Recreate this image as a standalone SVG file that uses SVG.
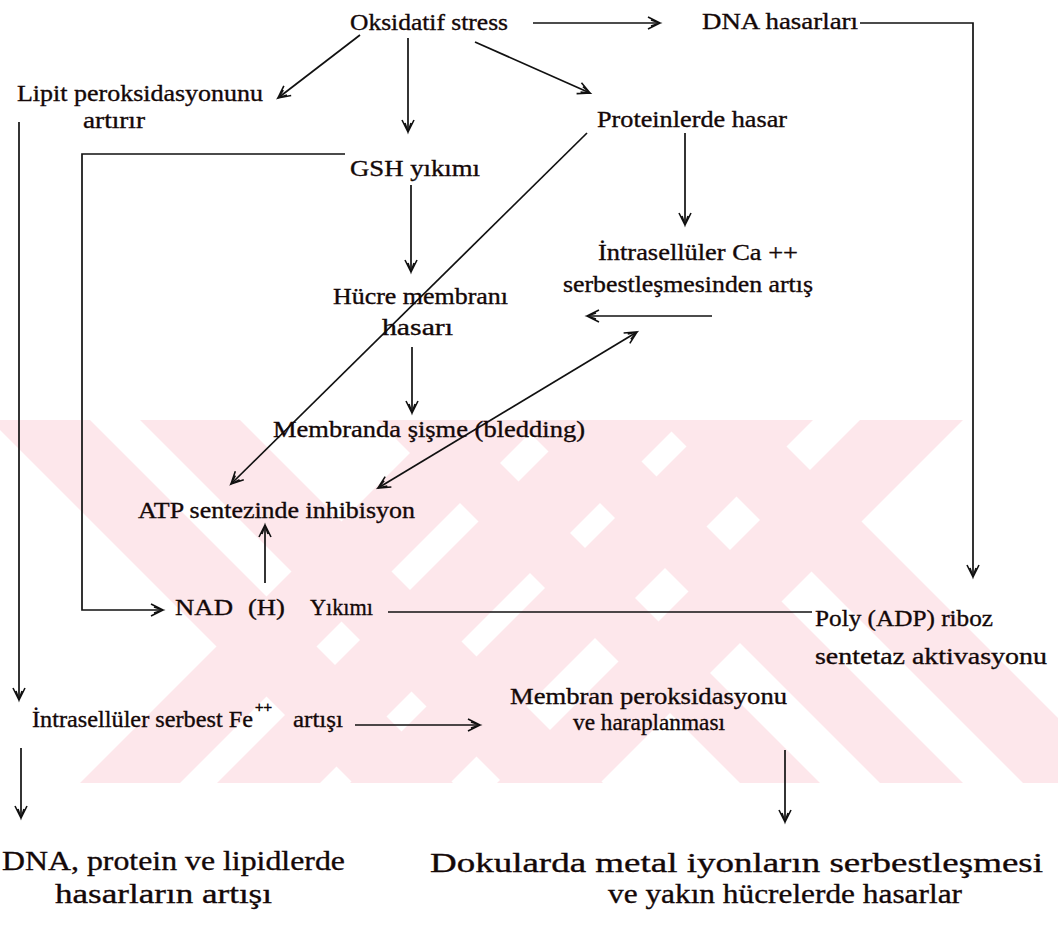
<svg xmlns="http://www.w3.org/2000/svg" width="1058" height="933" viewBox="0 0 1058 933">
<style>
text{font-family:"Liberation Serif","Times New Roman",serif;font-size:24px;fill:#140808;stroke:#140808;stroke-width:0.35}
.big{font-size:28px}
.sup{font-size:15px;stroke-width:0.6}
.ln{fill:none;stroke:#111;stroke-width:1.7}
.wm{fill:#fde7eb}
</style>
<defs>
<marker id="ah" markerUnits="userSpaceOnUse" markerWidth="16" markerHeight="16" refX="13" refY="7" orient="auto-start-reverse" viewBox="0 0 16 14">
<path d="M1,1 L13,7 L1,13 M4,4 L13,7 L4,10" fill="none" stroke="#111" stroke-width="1.6"/>
</marker>
<clipPath id="band"><rect x="0" y="420" width="1058" height="363"/></clipPath>
</defs>
<rect width="1058" height="933" fill="#fff"/>
<g id="watermark" clip-path="url(#band)">
<polygon class="wm" points="80,783 180,783 543,420 443,420"/>
<polygon class="wm" points="217,783 320,783 683,420 580,420"/>
<polygon class="wm" points="350,783 450,783 813,420 713,420"/>
<polygon class="wm" points="497,783 600,783 963,420 860,420"/>
<polygon class="wm" points="-10,420 90,420 453,783 353,783"/>
<polygon class="wm" points="140,420 240,420 603,783 503,783"/>
<polygon class="wm" points="377,420 457,420 820,783 740,783"/>
<polygon class="wm" points="517,420 600,420 963,783 880,783"/>
<polygon class="wm" points="660,420 760,420 1123,783 1023,783"/>
</g>
<g id="connectors">
<line class="ln" x1="533" y1="23" x2="660" y2="23" marker-end="url(#ah)"/>
<line class="ln" x1="360" y1="35" x2="278" y2="98" marker-end="url(#ah)"/>
<line class="ln" x1="408" y1="38" x2="408" y2="132" marker-end="url(#ah)"/>
<line class="ln" x1="475" y1="42" x2="590" y2="93" marker-end="url(#ah)"/>
<polyline class="ln" points="860,23 973,23 973,577" marker-end="url(#ah)"/>
<polyline class="ln" points="345,154 82,154 82,610 163,610" marker-end="url(#ah)"/>
<line class="ln" x1="19" y1="122" x2="19" y2="700" marker-end="url(#ah)"/>
<line class="ln" x1="411" y1="185" x2="411" y2="272" marker-end="url(#ah)"/>
<line class="ln" x1="685" y1="133" x2="685" y2="225" marker-end="url(#ah)"/>
<line class="ln" x1="712" y1="316" x2="587" y2="316" marker-end="url(#ah)"/>
<line class="ln" x1="587" y1="133" x2="231" y2="484" marker-end="url(#ah)"/>
<line class="ln" x1="378" y1="488" x2="637" y2="332" marker-start="url(#ah)" marker-end="url(#ah)"/>
<line class="ln" x1="412" y1="347" x2="412" y2="413" marker-end="url(#ah)"/>
<line class="ln" x1="265" y1="583" x2="265" y2="525" marker-end="url(#ah)"/>
<line class="ln" x1="388" y1="612" x2="812" y2="612"/>
<line class="ln" x1="355" y1="725" x2="480" y2="725" marker-end="url(#ah)"/>
<line class="ln" x1="21" y1="748" x2="21" y2="818" marker-end="url(#ah)"/>
<line class="ln" x1="785" y1="750" x2="785" y2="822" marker-end="url(#ah)"/>
</g>
<g id="n-oksidatif"><text x="350" y="30" textLength="158" lengthAdjust="spacingAndGlyphs">Oksidatif stress</text></g>
<g id="n-dna"><text x="702" y="29" textLength="156" lengthAdjust="spacingAndGlyphs">DNA hasarları</text></g>
<g id="n-lipit"><text x="17" y="101" textLength="246" lengthAdjust="spacingAndGlyphs">Lipit peroksidasyonunu</text><text x="83" y="128" textLength="62" lengthAdjust="spacingAndGlyphs">artırır</text></g>
<g id="n-protein"><text x="597" y="127" textLength="190" lengthAdjust="spacingAndGlyphs">Proteinlerde hasar</text></g>
<g id="n-gsh"><text x="350" y="176" textLength="130" lengthAdjust="spacingAndGlyphs">GSH yıkımı</text></g>
<g id="n-ca"><text x="598" y="260" textLength="200" lengthAdjust="spacingAndGlyphs">İntrasellüler Ca ++</text><text x="563" y="292" textLength="250" lengthAdjust="spacingAndGlyphs">serbestleşmesinden artış</text></g>
<g id="n-hucre"><text x="333" y="304" textLength="175" lengthAdjust="spacingAndGlyphs">Hücre membranı</text><text x="382" y="335" textLength="71" lengthAdjust="spacingAndGlyphs">hasarı</text></g>
<g id="n-membranda"><text x="273" y="437" textLength="312" lengthAdjust="spacingAndGlyphs">Membranda şişme (bledding)</text></g>
<g id="n-atp"><text x="138" y="518" textLength="277" lengthAdjust="spacingAndGlyphs">ATP sentezinde inhibisyon</text></g>
<g id="n-nad"><text x="175" y="615" textLength="58" lengthAdjust="spacingAndGlyphs">NAD</text><text x="248" y="615" textLength="37" lengthAdjust="spacingAndGlyphs">(H)</text><text x="310" y="615" textLength="63" lengthAdjust="spacingAndGlyphs">Yıkımı</text></g>
<g id="n-poly"><text x="815" y="626" textLength="178" lengthAdjust="spacingAndGlyphs">Poly (ADP) riboz</text><text x="815" y="664" textLength="232" lengthAdjust="spacingAndGlyphs">sentetaz aktivasyonu</text></g>
<g id="n-fe"><text x="32" y="727" textLength="221" lengthAdjust="spacingAndGlyphs">İntrasellüler serbest Fe</text><text class="sup" x="255" y="712">++</text><text x="293" y="727" textLength="50" lengthAdjust="spacingAndGlyphs">artışı</text></g>
<g id="n-membran"><text x="510" y="704" textLength="277" lengthAdjust="spacingAndGlyphs">Membran peroksidasyonu</text><text x="573" y="730" textLength="152" lengthAdjust="spacingAndGlyphs">ve haraplanması</text></g>
<g id="n-dnaprot"><text class="big" x="2" y="870" textLength="343" lengthAdjust="spacingAndGlyphs">DNA, protein ve lipidlerde</text><text class="big" x="55" y="903" textLength="217" lengthAdjust="spacingAndGlyphs">hasarların artışı</text></g>
<g id="n-dokular"><text class="big" x="430" y="872" textLength="613" lengthAdjust="spacingAndGlyphs">Dokularda metal iyonların serbestleşmesi</text><text class="big" x="608" y="903" textLength="354" lengthAdjust="spacingAndGlyphs">ve yakın hücrelerde hasarlar</text></g>
</svg>
